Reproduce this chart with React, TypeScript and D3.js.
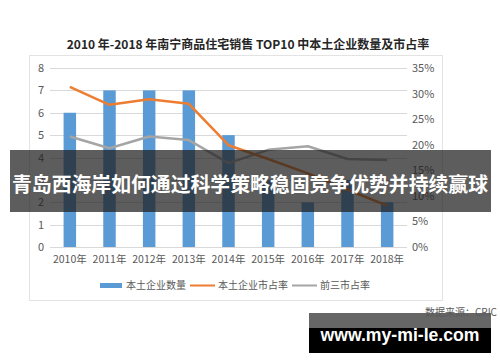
import React, { useEffect, useRef } from 'react';
import * as d3 from 'd3';

const years = ['2010年', '2011年', '2012年', '2013年', '2014年', '2015年', '2016年', '2017年', '2018年'];
const localCount = [6, 7, 7, 7, 5, 3, 2, 3, 2];
const localShare = [31.3, 27.8, 28.9, 28.0, 19.9, 17.2, 14.4, 11.2, 8.1];
const top3Share = [21.6, 19.3, 21.6, 20.9, 16.4, 19.0, 19.7, 17.2, 17.0];
const leftTicks = [0, 1, 2, 3, 4, 5, 6, 7, 8];
const rightTicks = [0, 5, 10, 15, 20, 25, 30, 35];

const FONT = '"Noto Sans CJK SC", "Noto Sans", sans-serif';

const App: React.FC = () => {
  const ref = useRef<SVGSVGElement>(null);

  useEffect(() => {
    if (!ref.current) return;
    const svg = d3.select(ref.current);
    svg.selectAll('*').remove();

    const plot = { left: 50, right: 407, top: 68, bottom: 247 };

    // chart frame
    svg.append('rect')
      .attr('x', 29.5).attr('y', 55.5).attr('width', 413).attr('height', 245)
      .attr('fill', '#fff').attr('stroke', '#e3e3e3');

    svg.append('text')
      .attr('x', 248).attr('y', 49)
      .attr('text-anchor', 'middle')
      .attr('font-size', '12px').attr('font-weight', 'bold')
      .attr('fill', '#262626')
      .text('2010 年-2018 年南宁商品住宅销售 TOP10 中本土企业数量及市占率');

    const x = d3.scaleBand().domain(years).range([plot.left, plot.right]).paddingInner(0.685).paddingOuter(0.3425);
    const yL = d3.scaleLinear().domain([0, 8]).range([plot.bottom, plot.top]);
    const yR = d3.scaleLinear().domain([0, 35]).range([plot.bottom, plot.top]);

    // gridlines
    svg.append('g').selectAll('line').data(leftTicks).enter().append('line')
      .attr('x1', plot.left).attr('x2', plot.right)
      .attr('y1', d => Math.round(yL(d)) + 0.5).attr('y2', d => Math.round(yL(d)) + 0.5)
      .attr('stroke', '#d9d9d9');

    svg.append('g').selectAll('text').data(leftTicks).enter().append('text')
      .attr('x', 44).attr('y', d => yL(d) + 4)
      .attr('text-anchor', 'end').attr('font-size', '11px').attr('fill', '#595959')
      .text(d => d);

    svg.append('g').selectAll('text').data(rightTicks).enter().append('text')
      .attr('x', 412).attr('y', d => yR(d) + 4)
      .attr('text-anchor', 'start').attr('font-size', '11px').attr('fill', '#595959')
      .text(d => `${d}%`);

    const bw = x.bandwidth();
    const cx = (d: string) => (x(d) as number) + bw / 2;

    svg.append('g').selectAll('rect').data(localCount).enter().append('rect')
      .attr('x', (_, i) => x(years[i]) as number)
      .attr('y', d => yL(d))
      .attr('width', bw)
      .attr('height', d => yL(0) - yL(d))
      .attr('fill', '#5b9bd5');

    svg.append('g').selectAll('text').data(years).enter().append('text')
      .attr('x', d => cx(d)).attr('y', 263)
      .attr('text-anchor', 'middle').attr('font-size', '10.5px').attr('fill', '#595959')
      .text(d => d);

    const line = d3.line<number>().x((_, i) => cx(years[i])).y(d => yR(d));

    svg.append('path').datum(top3Share).attr('d', line)
      .attr('fill', 'none').attr('stroke', '#a5a5a5').attr('stroke-width', 2.5).attr('stroke-linejoin', 'round');
    svg.append('path').datum(localShare).attr('d', line)
      .attr('fill', 'none').attr('stroke', '#ed7d31').attr('stroke-width', 2.5).attr('stroke-linejoin', 'round');

    // legend
    const lg = svg.append('g').attr('font-size', '10px').attr('fill', '#595959');
    lg.append('rect').attr('x', 100).attr('y', 283).attr('width', 22).attr('height', 5).attr('fill', '#5b9bd5');
    lg.append('text').attr('x', 126).attr('y', 289).text('本土企业数量');
    lg.append('line').attr('x1', 190).attr('x2', 215).attr('y1', 285.5).attr('y2', 285.5)
      .attr('stroke', '#ed7d31').attr('stroke-width', 2);
    lg.append('text').attr('x', 218).attr('y', 289).text('本土企业市占率');
    lg.append('line').attr('x1', 292).attr('x2', 317).attr('y1', 285.5).attr('y2', 285.5)
      .attr('stroke', '#a5a5a5').attr('stroke-width', 2);
    lg.append('text').attr('x', 320).attr('y', 289).text('前三市占率');

    // overlay banner
    svg.append('rect')
      .attr('x', 10).attr('y', 150).attr('width', 481).attr('height', 62)
      .attr('fill', 'rgba(30,30,30,0.72)');
    svg.append('text')
      .attr('x', 250).attr('y', 192)
      .attr('text-anchor', 'middle').attr('font-size', '20px').attr('font-weight', 'bold')
      .attr('fill', '#fff')
      .attr('textLength', 476).attr('lengthAdjust', 'spacingAndGlyphs')
      .text('青岛西海岸如何通过科学策略稳固竞争优势并持续赢球');

    // watermark
    svg.append('rect').attr('x', 309).attr('y', 313).attr('width', 182).attr('height', 40).attr('fill', '#000');
    svg.append('rect').attr('x', 309).attr('y', 313).attr('width', 182).attr('height', 15).attr('fill', '#666');
    svg.append('text')
      .attr('x', 400).attr('y', 341)
      .attr('text-anchor', 'middle').attr('font-size', '18px').attr('font-weight', 'bold')
      .attr('font-family', '"Liberation Sans", Arial, sans-serif')
      .attr('fill', '#fff')
      .attr('textLength', 159).attr('lengthAdjust', 'spacingAndGlyphs')
      .text('www.my-mi-le.com');

    svg.append('text')
      .attr('x', 497).attr('y', 316)
      .attr('text-anchor', 'end').attr('font-size', '10px').attr('fill', '#595959')
      .text('数据来源：CRIC');
  }, []);

  return (
    <svg
      ref={ref}
      width={500}
      height={362}
      style={{ position: 'absolute', left: 0, top: 0, background: '#fff', fontFamily: FONT }}
    />
  );
};

export default App;
